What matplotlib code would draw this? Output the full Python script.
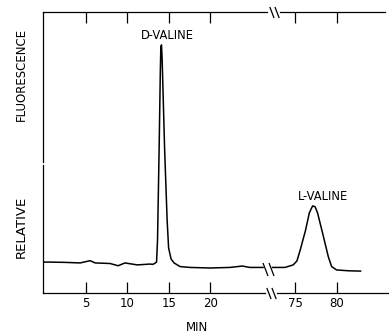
import matplotlib
matplotlib.use('Agg')
import matplotlib.pyplot as plt
import matplotlib.transforms as mtransforms
from matplotlib.path import Path
import numpy as np

# trace: minutes vs relative fluorescence (0-100)
t_early = [-0.24, 0.65, 2.46, 4.27, 5.48, 6.1, 7.9, 8.87, 9.7, 11.2, 12.7, 13.1,
           13.52, 13.64, 13.83, 13.98, 14.04, 14.12, 14.2, 14.5, 14.8, 14.98,
           15.28, 15.64, 16.37, 17.58, 20.0, 22.4, 23.9, 24.8, 26.4]
y_early = [11.0, 11.0, 10.9, 10.7, 11.5, 10.7, 10.5, 9.7, 10.7, 10.0, 10.3, 10.2,
           11.0, 18.9, 50.9, 79.4, 87.5, 88.3, 82.9, 50.9, 26.0, 16.0,
           12.1, 10.7, 9.4, 9.1, 8.9, 9.1, 9.6, 9.1, 9.1]
t_late = [72.25, 73.75, 74.75, 75.2, 75.6, 76.25, 76.7, 77.1, 77.4, 77.7,
          78.3, 79.0, 79.4, 80.0, 81.5, 82.9]
y_late = [9.1, 9.1, 10.0, 11.4, 15.3, 22.4, 28.5, 31.0, 30.7, 28.5,
          21.4, 12.9, 9.4, 8.2, 7.9, 7.8]

ticks = [5, 10, 15, 20, 75, 80]
tick_labels = ['5', '10', '15', '20', '75', '80']
peaks = ['D-VALINE', 'L-VALINE']
peak_t = [14.8, 78.3]
peak_y = [91.8, 34.3]

# broken time axis
CUT = 27.0
SHIFT = 44.7


def fwd(t):
    t = np.asarray(t, dtype=float)
    return np.where(t <= CUT, t, np.where(t >= CUT + SHIFT, t - SHIFT, CUT))


def inv(x):
    x = np.asarray(x, dtype=float)
    return np.where(x <= CUT, x, x + SHIFT)


fig = plt.figure(figsize=(3.89, 3.33), dpi=100)
ax = fig.add_axes([0.1098, 0.1201, 0.8902, 0.8438])
ax.set_xscale('function', functions=(fwd, inv))
ax.set_xlim(-0.25, 86.34)
ax.set_ylim(0, 100)

ax.plot(t_early, y_early, color='black', lw=1.1)
ax.plot(t_late, y_late, color='black', lw=1.1)

for name, tx, ty in zip(peaks, peak_t, peak_y):
    ax.text(tx, ty, name, ha='center', va='center', fontsize=8.3)

for s in ax.spines.values():
    s.set_visible(False)

# hand-drawn frame with gaps
kw = dict(color='black', lw=0.9, clip_on=False)
ax.plot([0, 0], [0, 0.456], transform=ax.transAxes, **kw)
ax.plot([0, 0], [0.466, 1], transform=ax.transAxes, **kw)
blend = mtransforms.blended_transform_factory(ax.transData, ax.transAxes)
ax.plot([-0.25, 26.6], [0, 0], transform=blend, **kw)
ax.plot([72.8, 86.34], [0, 0], transform=blend, **kw)
ax.plot([-0.25, 26.9], [1, 1], transform=blend, **kw)
ax.plot([73.2, 85.9], [1, 1], transform=blend, **kw)

brk = Path([(-5.5, 6.5), (-0.5, -6.5), (0.5, 6.5), (5.5, -6.5)],
           [Path.MOVETO, Path.LINETO, Path.MOVETO, Path.LINETO])
mk = dict(marker=brk, ls='none', mfc='none', mec='black', mew=0.9, clip_on=False)
ax.plot([26.99], [8.7], ms=9.4, **mk)
ax.plot([72.07], [0], transform=blend, ms=8.0, **mk)
ax.plot([72.37], [1], transform=blend, ms=8.0, **mk)

ax.set_xticks(ticks)
ax.set_xticklabels(tick_labels)
ax.xaxis.set_minor_locator(matplotlib.ticker.NullLocator())
ax.tick_params(axis='x', direction='in', top=True, length=8, width=0.9,
               pad=3, labelsize=8.5)
ax.tick_params(axis='y', left=False, labelleft=False)

ax.set_xlabel('MIN', fontsize=8.5)
ax.xaxis.set_label_coords(0.446, -0.098)

fig.text(0.054, 0.32, 'RELATIVE', rotation=90, ha='center', va='center', fontsize=9.5)
fig.text(0.054, 0.775, 'FLUORESCENCE', rotation=90, ha='center', va='center', fontsize=8.5)

fig.savefig('out.png', dpi=100, facecolor='white')
